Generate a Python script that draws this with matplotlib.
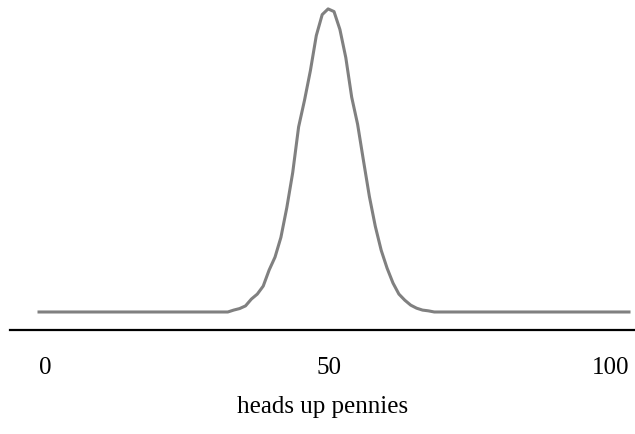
## HEADS UP PENNIES DISTRIBUTION
import numpy as np
import matplotlib
matplotlib.use('Agg')
import matplotlib.pyplot as plt
import matplotlib.transforms as mtransforms

## DATA (percent of trials for each number of heads)
heads=list(range(0,101))
tail_left=[0.0]*32
centre=[0.0,0.05,0.09,0.16,0.34,0.47,0.68,1.10,1.44,1.96,2.74,3.66,4.86,5.56,6.34,7.26,7.81,7.96,
        7.89,7.42,6.68,5.64,4.93,3.97,3.03,2.25,1.62,1.15,0.76,0.47,0.31,0.18,0.10,0.05,0.03,0.0]
tail_right=[0.0]*33
percent=tail_left+centre+tail_right
tick_pos=[0,50,100]
tick_labels=['0','50','100']
x_title='heads up pennies'

## FIGURE
plt.rcParams['font.family']=['Liberation Serif','DejaVu Serif']
fig=plt.figure(figsize=(6.35,4.35),dpi=100)
ax=fig.add_axes([10/635,104/435,625/635,331/435])
ax.plot(heads,percent,color='#808080',linewidth=2.2,solid_joinstyle='round')

## AXES
ax.set_xlim(-4.92,101.02)
ax.set_ylim(-0.473,8.22)
for side in ['top','left','right']:
    ax.spines[side].set_visible(False)
ax.spines['bottom'].set_linewidth(1.6)
ax.spines['bottom'].set_color('black')
ax.set_yticks([])
ax.set_xticks(tick_pos)
ax.set_xticklabels(tick_labels,fontsize=18)
ax.tick_params(axis='x',length=0,pad=19)
labs=ax.get_xticklabels()
labs[0].set_ha('left')
labs[2].set_ha('right')
# middle label sits a little left of the data centre in the original
shift=mtransforms.ScaledTranslation(-5/100,0,fig.dpi_scale_trans)
labs[1].set_transform(labs[1].get_transform()+shift)
ax.set_xlabel(x_title,fontsize=18,labelpad=12)

plt.savefig('out.png',dpi=100)
